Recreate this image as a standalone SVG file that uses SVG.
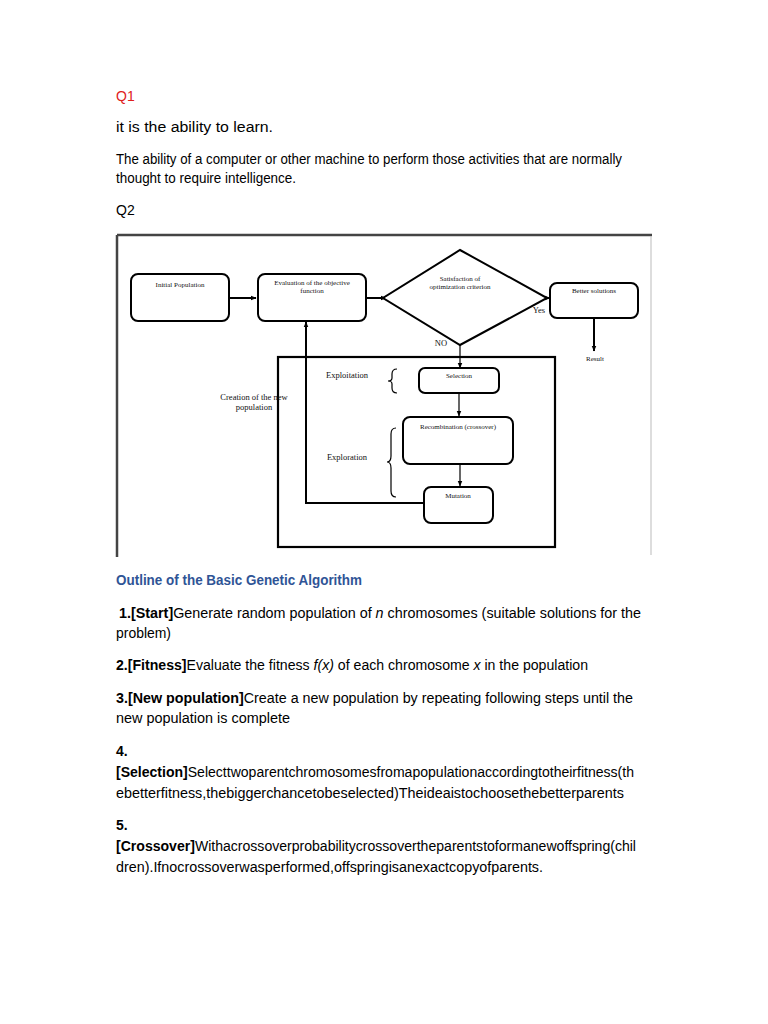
<svg xmlns="http://www.w3.org/2000/svg" width="768" height="1024" viewBox="0 0 768 1024">
<defs>
<style>
.body{font-family:"Liberation Sans","Noto Sans",sans-serif;font-size:14px;fill:#000}
.b{font-weight:bold}
.lbl{font-family:"Liberation Serif","DejaVu Serif",serif;font-size:7px;fill:#111}
.lbl2{font-family:"Liberation Serif","DejaVu Serif",serif;font-size:8.5px;fill:#111}
.box{fill:#fff;stroke:#000;stroke-width:2}
.ln{fill:none;stroke:#000;stroke-width:1.2}
.lnb{fill:none;stroke:#000;stroke-width:2}
</style>
<marker id="ah" viewBox="0 0 10 10" refX="9" refY="5" markerWidth="6" markerHeight="6" orient="auto" markerUnits="userSpaceOnUse">
<path d="M0,1 L10,5 L0,9 Z" fill="#000"/>
</marker>
</defs>
<rect width="768" height="1024" fill="#fff"/>

<g id="text-top">
<text x="116" y="101" class="body" style="fill:#e0201b">Q1</text>
<text x="116" y="132" class="body" textLength="157" lengthAdjust="spacingAndGlyphs">it is the ability to learn.</text>
<text x="116" y="164" class="body" textLength="506" lengthAdjust="spacingAndGlyphs">The ability of a computer or other machine to perform those activities that are normally</text>
<text x="116" y="183" class="body" textLength="180" lengthAdjust="spacingAndGlyphs">thought to require intelligence.</text>
<text x="116" y="215" class="body">Q2</text>
</g>

<g id="frame">
<line x1="117" y1="235" x2="652" y2="235" stroke="#444" stroke-width="2.5"/>
<line x1="117" y1="235" x2="117" y2="557" stroke="#444" stroke-width="2.5"/>
<line x1="651" y1="236" x2="651" y2="555" stroke="#bbb" stroke-width="1"/>
<rect id="inner-frame" x="278" y="357" width="277" height="190" fill="none" stroke="#000" stroke-width="2.2"/>
</g>

<g id="connectors">
<line class="lnb" x1="229" y1="298" x2="256" y2="298" marker-end="url(#ah)"/>
<line class="lnb" x1="366" y1="298" x2="386" y2="298" marker-end="url(#ah)"/>
<line class="lnb" x1="547" y1="298" x2="550" y2="298" marker-end="url(#ah)"/>
<line class="lnb" x1="594" y1="318" x2="594" y2="351" marker-end="url(#ah)"/>
<line class="ln" x1="460" y1="345" x2="460" y2="368" marker-end="url(#ah)"/>
<line class="ln" x1="459" y1="393" x2="459" y2="416" marker-end="url(#ah)"/>
<line class="ln" x1="460" y1="464" x2="460" y2="486" marker-end="url(#ah)"/>
<polyline class="lnb" points="424,503 306,503 306,322" marker-end="url(#ah)"/>
</g>

<g id="initial-population">
<rect class="box" x="131" y="274" width="98" height="47" rx="7"/>
<text x="180" y="287" class="lbl" text-anchor="middle">Initial Population</text>
</g>

<g id="evaluation">
<rect class="box" x="258" y="274" width="108" height="47" rx="7"/>
<text x="312" y="285" class="lbl" text-anchor="middle">Evaluation of the objective</text>
<text x="312" y="293" class="lbl" text-anchor="middle">function</text>
</g>

<g id="satisfaction">
<polygon points="460,250 547,298 460,345 383,298" fill="#fff" stroke="#000" stroke-width="2"/>
<text x="460" y="281" class="lbl" text-anchor="middle">Satisfaction of</text>
<text x="460" y="289" class="lbl" text-anchor="middle">optimization criterion</text>
<text x="539" y="313" class="lbl2" text-anchor="middle">Yes</text>
<text x="441" y="346" class="lbl2" text-anchor="middle">NO</text>
</g>

<g id="better-solutions">
<rect class="box" x="550" y="283" width="88" height="35" rx="7"/>
<text x="594" y="293" class="lbl" text-anchor="middle">Better solutions</text>
</g>

<g id="result">
<text x="595" y="361" class="lbl" text-anchor="middle">Result</text>
</g>

<g id="creation-label">
<text x="254" y="400" class="lbl2" text-anchor="middle">Creation of the new</text>
<text x="254" y="410" class="lbl2" text-anchor="middle">population</text>
</g>

<g id="exploitation">
<text x="347" y="378" class="lbl2" text-anchor="middle">Exploitation</text>
<path class="ln" d="M397,369 Q392,369 392,374 L392,378 Q392,381 388,381 Q392,381 392,384 L392,388 Q392,393 397,393"/>
</g>

<g id="exploration">
<text x="347" y="460" class="lbl2" text-anchor="middle">Exploration</text>
<path class="ln" d="M396,428 Q391,428 391,434 L391,456 Q391,462 387,462 Q391,462 391,468 L391,491 Q391,497 396,497"/>
</g>

<g id="selection">
<rect class="box" x="419" y="368" width="80" height="25" rx="6"/>
<text x="459" y="378" class="lbl" text-anchor="middle">Selection</text>
</g>

<g id="recombination">
<rect class="box" x="403" y="417" width="110" height="47" rx="7"/>
<text x="458" y="429" class="lbl" text-anchor="middle">Recombination (crossover)</text>
</g>

<g id="mutation">
<rect class="box" x="424" y="487" width="69" height="36" rx="7"/>
<text x="458" y="498" class="lbl" text-anchor="middle">Mutation</text>
</g>

<g id="text-bottom">
<text x="116" y="585" class="body b" style="fill:#2f5496" textLength="246" lengthAdjust="spacingAndGlyphs">Outline of the Basic Genetic Algorithm</text>
<text x="119" y="618" class="body" textLength="522" lengthAdjust="spacingAndGlyphs"><tspan class="b">1.[Start]</tspan>Generate random population of <tspan font-style="italic">n</tspan> chromosomes (suitable solutions for the</text>
<text x="116" y="638" class="body" textLength="55" lengthAdjust="spacingAndGlyphs">problem)</text>
<text x="116" y="670" class="body" textLength="472" lengthAdjust="spacingAndGlyphs"><tspan class="b">2.[Fitness]</tspan>Evaluate the fitness <tspan font-style="italic">f(x)</tspan> of each chromosome <tspan font-style="italic">x</tspan> in the population</text>
<text x="116" y="703" class="body" textLength="517" lengthAdjust="spacingAndGlyphs"><tspan class="b">3.[New population]</tspan>Create a new population by repeating following steps until the</text>
<text x="116" y="723" class="body" textLength="174" lengthAdjust="spacingAndGlyphs">new population is complete</text>
<text x="116" y="756" class="body b">4.</text>
<text x="116" y="777" class="body" textLength="518" lengthAdjust="spacingAndGlyphs"><tspan class="b">[Selection]</tspan>Selecttwoparentchromosomesfromapopulationaccordingtotheirfitness(th</text>
<text x="116" y="798" class="body" textLength="508" lengthAdjust="spacingAndGlyphs">ebetterfitness,thebiggerchancetobeselected)Theideaistochoosethebetterparents</text>
<text x="116" y="830" class="body b">5.</text>
<text x="116" y="851" class="body" textLength="520" lengthAdjust="spacingAndGlyphs"><tspan class="b">[Crossover]</tspan>Withacrossoverprobabilitycrossovertheparentstoformanewoffspring(chil</text>
<text x="116" y="872" class="body" textLength="427" lengthAdjust="spacingAndGlyphs">dren).Ifnocrossoverwasperformed,offspringisanexactcopyofparents.</text>
</g>
</svg>
